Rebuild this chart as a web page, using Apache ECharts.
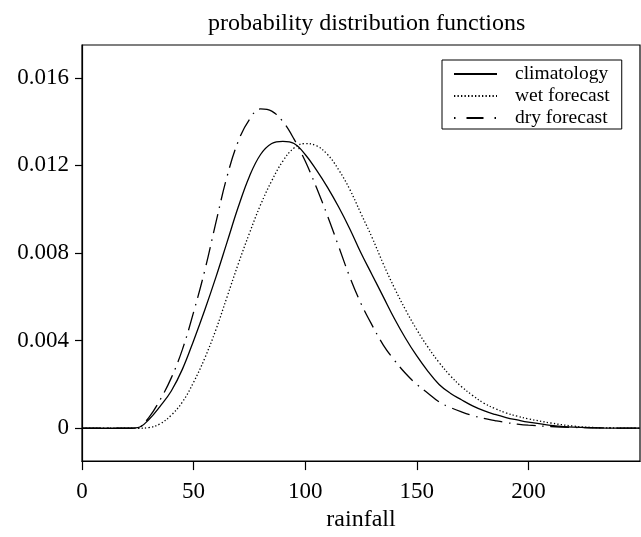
<!DOCTYPE html>
<html>
<head>
<meta charset="utf-8">
<script src="https://cdn.jsdelivr.net/npm/echarts@6/dist/echarts.min.js"></script>
<style>html,body{margin:0;padding:0;background:#fff}#c{width:641px;height:537px}</style>
</head>
<body>
<div id="c"></div>
<script>
var rainfall = [0,5,10,15,20,25,30,35,40,45,50,55,60,65,70,75,80,85,90,95,100,105,110,115,120,125,130,135,140,145,150,155,160,165,170,175,180,185,190,195,200,210,220,230,240,250];
var climatology = [0,0,0,0,0,0.00003,0.0004,0.001,0.0017,0.0027,0.0040,0.0054,0.0069,0.0085,0.0101,0.0115,0.0125,0.0130,0.0131,0.0130,0.0125,0.0118,0.0110,0.0101,0.0091,0.0080,0.0070,0.0060,0.0050,0.0041,0.0033,0.0026,0.0020,0.0016,0.0013,0.00102,0.0008,0.00063,0.00049,0.00038,0.00028,0.00013,0.00005,0.00002,0.00001,0.00001];
var wetForecast = [0,0,0,0,0,0,0.00003,0.0002,0.0006,0.0012,0.0021,0.0032,0.0045,0.0060,0.0075,0.0089,0.0102,0.0113,0.0122,0.0128,0.0130,0.0129,0.0125,0.0118,0.0109,0.0098,0.0087,0.0075,0.0064,0.0054,0.0045,0.0037,0.0030,0.0024,0.0019,0.0015,0.00115,0.0009,0.0007,0.00055,0.00043,0.00024,0.0001,0.00003,0.00001,0];
var dryForecast = [0,0,0,0,0,0.00003,0.0005,0.0013,0.0023,0.0036,0.0053,0.0072,0.0094,0.0115,0.0131,0.0141,0.01458,0.01448,0.0140,0.0132,0.0122,0.0110,0.0097,0.0083,0.0069,0.0057,0.0047,0.0038,0.0031,0.0025,0.0020,0.0016,0.0012,0.00095,0.00075,0.00058,0.00045,0.00035,0.00026,0.00019,0.00014,0.00008,0.00004,0.00002,0.00001,0];
var xTicks = [0,50,100,150,200];
var yTicks = [0,0.004,0.008,0.012,0.016];
var seriesNames = ['climatology','wet forecast','dry forecast'];

function pairs(ys){ return rainfall.map(function(x,i){ return [x, ys[i]]; }); }
var FONT = 'Liberation Serif';
var chart = echarts.init(document.getElementById('c'), null, {renderer:'canvas'});
var styles = ['solid', [1.3,2.2], [19,6.5,1.5,6.5]];
var datas = [climatology, wetForecast, dryForecast];
chart.setOption({
  animation:false,
  backgroundColor:'#fff',
  title:{text:'probability distribution functions', left:203, top:7,
    textStyle:{fontFamily:FONT, fontSize:24, fontWeight:'normal', color:'#000'}},
  grid:{left:82, right:1, top:45, bottom:67, show:true, borderColor:'#000', borderWidth:1.2},
  legend:{orient:'vertical', left:442, top:60,
    data:[
      {name:seriesNames[0]},
      {name:seriesNames[1]},
      {name:seriesNames[2], lineStyle:{type:[1.5,11,17,11,1.5,60]}}
    ],
    itemWidth:43, itemHeight:14, itemGap:2,
    itemStyle:{opacity:0},
    padding:[4,12,1,11], borderColor:'#000', borderWidth:1,
    textStyle:{fontFamily:FONT, fontSize:19.5, color:'#000', lineHeight:20, padding:[0,0,0,13]}},
  xAxis:{type:'value', min:0, max:250,
    name:'rainfall', nameLocation:'middle', nameGap:45,
    nameTextStyle:{fontFamily:FONT, fontSize:24, color:'#000'},
    axisLine:{onZero:false, lineStyle:{color:'#000', width:1.2}},
    axisTick:{customValues:xTicks, length:9, lineStyle:{color:'#000', width:1.2}},
    axisLabel:{customValues:xTicks, margin:19, fontFamily:FONT, fontSize:23, color:'#000'},
    splitLine:{show:false}},
  yAxis:{type:'value', min:-0.0015, max:0.0175,
    axisLine:{show:true, onZero:false, lineStyle:{color:'#000', width:1.2}},
    axisTick:{show:true, customValues:yTicks, length:7, lineStyle:{color:'#000', width:1.2}},
    axisLabel:{customValues:yTicks, margin:13, fontFamily:FONT, fontSize:23, color:'#000',
      formatter:function(v){ return v===0 ? '0' : v.toFixed(3); }},
    splitLine:{show:false}},
  series: seriesNames.map(function(n,i){
    return {name:n, type:'line', data:pairs(datas[i]), symbol:'none', smooth:0.4,
      lineStyle:{color:'#000', width:1.3, type:styles[i]}, itemStyle:{color:'#000'}};
  })
});
</script>
</body>
</html>
